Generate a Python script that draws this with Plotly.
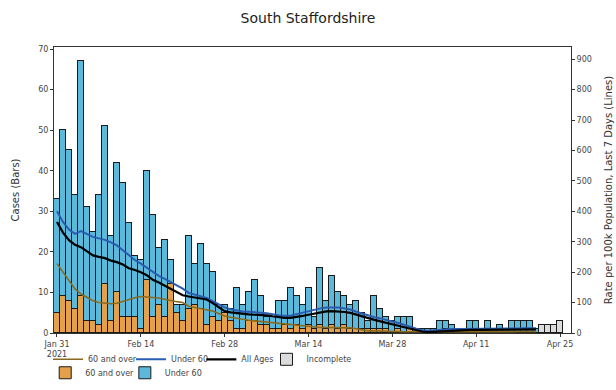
import pandas as pd
import plotly.graph_objects as go
from plotly.subplots import make_subplots

# ---- data ----
start_date = "2021-01-31"
n_days = 85  # Jan 31 .. Apr 25

over60_cases = [5, 9, 8, 6, 9, 3, 3, 2, 12, 3, 10, 4, 4, 4, 1, 13, 4, 7, 4, 12,
                5, 3, 6, 7, 6, 2, 4, 3, 5, 3, 1, 1, 3, 3, 2, 2, 1, 1, 2, 1,
                2, 1, 2, 1, 2, 1, 2, 1, 2, 1, 1, 1, 1, 1, 1, 1, 0, 1, 0, 1,
                0, 0, 0, 0, 0, 1, 0, 0, 0, 0, 1, 0, 0, 0, 1, 0, 0, 1, 0, 0,
                0, 0, 0, 0, 0]
total_cases = [33, 50, 45, 34, 67, 31, 25, 34, 51, 24, 42, 37, 27, 19, 18, 40, 29, 21, 23, 18,
               7, 7, 24, 17, 22, 17, 15, 7, 7, 6, 11, 7, 10, 13, 9, 4, 4, 8, 8, 11,
               9, 7, 11, 4, 16, 8, 14, 10, 9, 7, 8, 5, 3, 9, 6, 4, 3, 4, 4, 4,
               1, 1, 1, 1, 3, 3, 2, 1, 1, 3, 3, 0, 3, 1, 2, 1, 3, 3, 3, 3,
               1, 0, 0, 0, 0]
incomplete_cases = [0] * 81 + [2, 2, 2, 3]

rate_over60 = [228, 200, 172, 145, 128, 116, 106, 100, 98, 96, 98, 104, 111, 116, 120, 119, 117, 115, 111, 106,
               103, 100, 88, 84, 80, 77, 72, 64, 56, 52, 48, 45, 42, 40, 38, 36, 33, 31, 29, 27,
               25, 22, 20, 19, 18, 18, 18, 18, 18, 17, 14, 10, 7, 7, 6, 6, 5, 5, 4, 4,
               4, 3, 3, 2, 2, 3, 3, 3, 3, 3, 4, 4, 4, 4, 4, 4, 4, 5, 5, 5, 5]
rate_under60 = [400, 365, 340, 326, 335, 325, 316, 311, 306, 298, 288, 272, 255, 240, 228, 215, 200, 188, 178, 167,
                156, 146, 132, 127, 120, 115, 105, 95, 84, 78, 74, 71, 70, 69, 68, 65, 62, 58, 57, 57,
                62, 67, 72, 77, 81, 84, 85, 84, 81, 77, 70, 64, 57, 52, 48, 44, 38, 33, 28, 21,
                14, 9, 7, 9, 11, 13, 13, 13, 13, 14, 14, 13, 14, 14, 14, 14, 14, 15, 16, 16, 16]
rate_all = [365, 330, 305, 290, 282, 268, 255, 250, 246, 238, 233, 225, 213, 207, 200, 190, 175, 166, 155, 145,
            135, 124, 120, 117, 113, 110, 98, 84, 72, 68, 65, 62, 61, 60, 60, 58, 55, 52, 50, 50,
            52, 56, 60, 64, 68, 71, 72, 71, 69, 66, 60, 55, 47, 43, 38, 34, 29, 24, 19, 14,
            9, 5, 3, 4, 6, 8, 9, 9, 9, 10, 10, 10, 10, 10, 10, 10, 10, 11, 12, 12, 12]

tick_dates = ["2021-01-31", "2021-02-14", "2021-02-28", "2021-03-14", "2021-03-28", "2021-04-11", "2021-04-25"]
tick_labels = ["Jan 31<br>2021", "Feb 14", "Feb 28", "Mar 14", "Mar 28", "Apr 11", "Apr 25"]

# ---- derived ----
dates = pd.date_range(start_date, periods=n_days, freq="D")
under60_cases = [t - o for t, o in zip(total_cases, over60_cases)]
line_dates = dates[:len(rate_all)]

C_ORANGE = "#E5A04C"
C_BLUE = "#5BB9DC"
C_LINE_OVER = "#8A6A1E"
C_LINE_UNDER = "#2A5DB0"
C_EDGE = "#1a1a1a"
FONT = "DejaVu Sans"

fig = make_subplots(specs=[[{"secondary_y": True}]])

# bars (second legend row)
fig.add_trace(go.Bar(x=dates, y=over60_cases, name="60 and over",
                     marker=dict(color=C_ORANGE, line=dict(color=C_EDGE, width=1)),
                     legend="legend5"), secondary_y=False)
fig.add_trace(go.Bar(x=dates, y=under60_cases, name="Under 60",
                     marker=dict(color=C_BLUE, line=dict(color=C_EDGE, width=1)),
                     legend="legend6"), secondary_y=False)

# lines (first legend row)
fig.add_trace(go.Scatter(x=line_dates, y=rate_over60, name="60 and over", mode="lines",
                         line=dict(color=C_LINE_OVER, width=1.6), legend="legend"), secondary_y=True)
fig.add_trace(go.Scatter(x=line_dates, y=rate_under60, name="Under 60", mode="lines",
                         line=dict(color=C_LINE_UNDER, width=2), legend="legend2"), secondary_y=True)
fig.add_trace(go.Scatter(x=line_dates, y=rate_all, name="All Ages", mode="lines",
                         line=dict(color="#000000", width=2.2), legend="legend3"), secondary_y=True)
fig.add_trace(go.Bar(x=dates, y=incomplete_cases, name="Incomplete",
                     marker=dict(color="#DCDCDC", line=dict(color=C_EDGE, width=1)),
                     legend="legend4"), secondary_y=False)

for tr in fig.data:
    tr.showlegend = True


def leg(x, y):
    return dict(orientation="h", x=x, xanchor="left", y=y, yanchor="middle",
                font=dict(size=8, color="#444444"), itemwidth=30,
                bgcolor="rgba(0,0,0,0)", borderwidth=0, visible=True)


row1_y = -0.092
row2_y = -0.139
fig.update_layout(
    width=616, height=390,
    showlegend=True,
    margin=dict(l=54, r=45, t=47, b=57, autoexpand=False),
    barmode="stack", bargap=0,
    plot_bgcolor="white", paper_bgcolor="white",
    font=dict(family=FONT, size=8, color="#444444"),
    title=dict(text="South Staffordshire", x=0.5, xanchor="center", y=0.953, yanchor="middle",
               yref="container", font=dict(family=FONT, size=14, color="#222222")),
    legend=leg(-0.0116, row1_y),
    legend2=leg(0.149, row1_y),
    legend3=leg(0.285, row1_y),
    legend4=leg(0.411, row1_y),
    legend5=leg(-0.017, row2_y),
    legend6=leg(0.137, row2_y),
)

fig.update_xaxes(
    type="date", automargin=False, domain=[0, 1],
    range=["2021-01-30 12:00", "2021-04-26 20:00"],
    tickvals=tick_dates, ticktext=tick_labels,
    ticks="outside", ticklen=3, tickcolor="#333333",
    showline=True, linecolor="#333333", linewidth=1, mirror=True,
    showgrid=False, zeroline=False,
    tickfont=dict(size=8, color="#444444"),
)
fig.update_yaxes(
    range=[0, 70.5], tickvals=[0, 10, 20, 30, 40, 50, 60, 70],
    ticks="outside", ticklen=3, tickcolor="#333333", automargin=False,
    showline=True, linecolor="#333333", linewidth=1,
    showgrid=False, zeroline=False,
    title=dict(text="Cases (Bars)", font=dict(size=10, color="#333333"), standoff=16),
    tickfont=dict(size=8, color="#444444"),
    secondary_y=False,
)
fig.update_yaxes(
    range=[0, 940], tickvals=[0, 100, 200, 300, 400, 500, 600, 700, 800, 900],
    ticks="outside", ticklen=3, tickcolor="#333333", automargin=False,
    showline=True, linecolor="#333333", linewidth=1,
    showgrid=False, zeroline=False,
    title=dict(text="Rate per 100k Population, Last 7 Days (Lines)", font=dict(size=10, color="#333333"), standoff=14),
    tickfont=dict(size=8, color="#444444"),
    secondary_y=True,
)

fig.write_html("out.html", config={"displayModeBar": False},
               post_script="document.body.style.margin='0px';")
